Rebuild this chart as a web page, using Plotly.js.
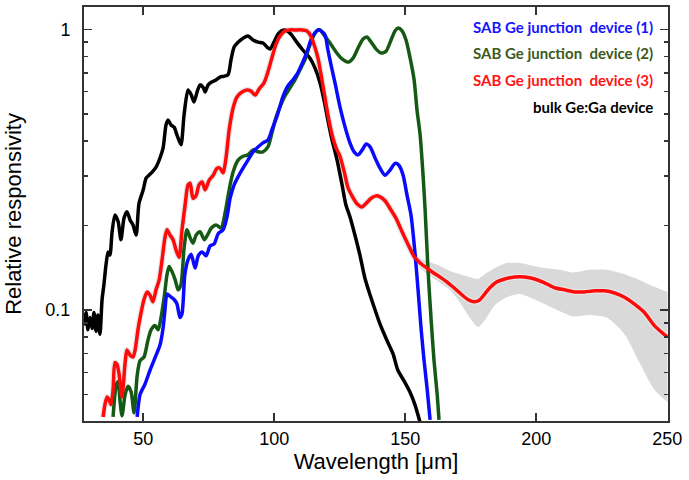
<!DOCTYPE html>
<html>
<head>
<meta charset="utf-8">
<script src="https://cdn.plot.ly/plotly-3.0.1.min.js"></script>
<style>html,body{margin:0;padding:0;background:#fff;}#chart{width:689px;height:480px;}</style>
</head>
<body>
<div id="chart"></div>
<script>
// Bulk Ge:Ga device (black)
const bulkX = [27.4,28.2,28.9,29.7,30.5,31.2,32.0,32.7,33.5,34.3,35.0,35.8,36.6,37.3,38.1,39.2,40.4,41.5,42.7,43.8,45.0,46.1,47.3,48.4,50.0,51.1,52.2,53.4,54.9,56.4,57.6,58.7,59.5,60.6,61.8,62.9,64.4,65.6,67.1,68.3,69.4,70.6,71.7,72.9,73.6,74.8,76.3,77.8,79.3,80.8,82.4,83.5,84.7,86.2,88.1,90.0,91.9,93.8,95.7,97.2,98.4,99.9,101.4,102.9,104.8,106.7,108.6,110.9,113.6,115.5,117.5,119.0,120.5,122.1,124.0,125.9,127.4,128.9,130.8,132.7,134.6,136.6,138.5,140.4,143.0,145.3,147.2,149.5,151.8,153.7,155.6];
const bulkY = [0.088,0.098,0.085,0.094,0.086,0.098,0.084,0.096,0.082,0.109,0.123,0.145,0.161,0.157,0.189,0.218,0.207,0.178,0.213,0.224,0.209,0.201,0.185,0.240,0.268,0.295,0.302,0.310,0.323,0.348,0.378,0.456,0.475,0.456,0.448,0.42,0.388,0.496,0.608,0.585,0.551,0.600,0.634,0.620,0.598,0.634,0.650,0.660,0.676,0.68,0.69,0.778,0.865,0.90,0.93,0.947,0.916,0.90,0.894,0.865,0.85,0.90,0.96,0.99,0.99,0.954,0.90,0.844,0.79,0.73,0.644,0.56,0.475,0.403,0.342,0.279,0.236,0.215,0.185,0.157,0.13,0.113,0.10,0.089,0.078,0.070,0.061,0.056,0.051,0.046,0.040];

// SAB Ge junction device (1) (blue)
const dev1X = [47.7,48.8,50.7,52.6,54.5,56.4,57.6,58.3,59.1,60.2,61.8,62.9,64.0,64.8,65.9,67.1,68.3,69.8,71.0,72.5,74.0,75.5,77.1,78.6,80.5,82.0,83.2,84.7,86.2,88.1,90.0,91.9,93.8,95.7,97.6,99.1,101.0,103.3,105.2,107.1,109.0,110.9,112.5,114.0,115.5,116.7,117.9,119.4,120.5,121.7,123.2,125.1,127.0,128.9,130.5,132.0,133.6,135.1,136.6,138.5,140.4,142.3,144.2,146.1,147.6,149.2,150.7,152.2,153.8,154.9,156.1,157.2,158.4,159.5];
const dev1Y = [0.0416,0.050,0.0545,0.061,0.0675,0.075,0.0865,0.100,0.114,0.112,0.109,0.105,0.094,0.097,0.134,0.151,0.158,0.141,0.156,0.161,0.156,0.169,0.172,0.187,0.193,0.215,0.251,0.279,0.298,0.32,0.342,0.366,0.381,0.394,0.403,0.438,0.488,0.574,0.628,0.660,0.70,0.765,0.83,0.916,0.97,0.995,0.987,0.954,0.844,0.746,0.644,0.529,0.45,0.394,0.366,0.357,0.372,0.39,0.381,0.348,0.32,0.302,0.315,0.333,0.328,0.302,0.256,0.218,0.157,0.118,0.085,0.066,0.052,0.0406];

// SAB Ge junction device (2) (green)
const dev2X = [38.5,39.7,40.4,41.1,41.9,43.1,44.2,45.4,46.5,47.7,48.8,50.3,51.8,53.0,54.5,55.7,56.8,58.0,59.1,59.9,61.0,62.2,63.3,64.4,65.6,66.7,67.9,69.0,70.2,71.7,73.3,74.4,76.0,77.8,79.7,81.3,82.8,84.3,86.2,88.1,90.0,91.9,93.8,95.7,97.6,99.1,100.6,102.2,104.1,106.0,107.9,109.8,111.7,113.2,114.8,116.3,117.5,119.0,121.3,123.6,125.9,128.2,130.1,132.0,133.9,135.4,137.0,138.9,140.8,142.7,144.6,146.1,147.3,148.8,150.3,151.8,153.4,154.5,155.7,156.8,157.6,158.7,159.9,161.0,162.2,162.9];
const dev2Y = [0.0416,0.054,0.0555,0.048,0.042,0.050,0.0535,0.051,0.043,0.0585,0.066,0.068,0.078,0.085,0.088,0.085,0.094,0.111,0.134,0.143,0.137,0.128,0.118,0.123,0.166,0.193,0.181,0.173,0.185,0.19,0.178,0.184,0.196,0.201,0.196,0.223,0.268,0.31,0.342,0.353,0.357,0.372,0.366,0.366,0.381,0.426,0.483,0.529,0.579,0.618,0.660,0.716,0.778,0.858,0.94,0.987,0.995,0.954,0.894,0.83,0.784,0.764,0.79,0.858,0.923,0.939,0.90,0.85,0.823,0.836,0.916,0.987,1.01,0.987,0.916,0.796,0.66,0.516,0.42,0.303,0.227,0.139,0.092,0.066,0.05,0.0406];

// SAB Ge junction device (3) (red)
const dev3X = [34.7,35.4,36.2,36.9,37.7,38.5,39.2,40.0,40.8,41.9,43.1,43.8,45.0,46.1,46.9,48.0,49.2,50.3,51.5,52.6,53.7,54.9,56.1,57.2,58.3,59.1,60.2,61.4,62.5,63.7,64.8,66.0,67.1,67.9,69.0,70.2,71.3,72.5,73.6,75.2,76.7,78.2,79.3,80.5,81.6,82.8,84.3,85.8,87.7,89.6,91.1,92.7,94.2,96.1,97.6,99.1,100.6,102.2,104.1,106.0,108.3,110.6,112.5,114.0,115.5,116.7,117.9,119.0,120.5,122.1,123.6,125.1,126.7,128.2,129.7,131.6,133.5,135.1,137.0,138.9,140.4,142.3,144.2,146.5,148.8,151.1,153.4,155.7,158.3,160.6,163.3,165.9,168.6,171.3,173.9,176.2,178.1,180.0,182.3,185.0,188.0,191.8,195.6,199.4,203.2,207.0,210.8,214.6,218.4,222.3,226.1,229.9,233.7,237.5,241.3,245.1,250.1];
const dev3Y = [0.0416,0.046,0.049,0.048,0.046,0.052,0.065,0.064,0.059,0.049,0.065,0.072,0.069,0.068,0.072,0.085,0.098,0.109,0.116,0.113,0.107,0.118,0.128,0.151,0.181,0.193,0.185,0.178,0.164,0.154,0.193,0.237,0.279,0.283,0.25,0.256,0.279,0.286,0.268,0.29,0.302,0.32,0.32,0.308,0.348,0.438,0.524,0.574,0.598,0.608,0.603,0.583,0.612,0.644,0.705,0.79,0.88,0.946,0.987,0.995,0.995,0.995,0.987,0.946,0.865,0.79,0.687,0.598,0.495,0.42,0.378,0.353,0.311,0.272,0.255,0.239,0.233,0.24,0.25,0.255,0.253,0.245,0.23,0.212,0.19,0.171,0.155,0.147,0.141,0.136,0.131,0.126,0.12,0.114,0.109,0.107,0.108,0.113,0.12,0.126,0.129,0.131,0.131,0.129,0.125,0.12,0.118,0.116,0.116,0.117,0.117,0.115,0.111,0.105,0.098,0.088,0.080];

// Uncertainty band of device (3)
const bandX  = [149.9,155.7,162.2,167.0,171.0,174.6,177.7,180.4,184.2,188.8,193.7,201.3,209.0,213.9,220.4,226.9,233.7,239.4,245.1,250.1];
const bandHi = [0.183,0.153,0.145,0.138,0.134,0.131,0.129,0.134,0.141,0.147,0.147,0.142,0.139,0.136,0.139,0.139,0.134,0.128,0.121,0.116];
const bandLo = [0.169,0.141,0.127,0.118,0.106,0.094,0.087,0.092,0.104,0.111,0.114,0.107,0.099,0.095,0.096,0.094,0.082,0.065,0.052,0.047];

const legendNames = ['SAB Ge junction  device (1)','SAB Ge junction  device (2)','SAB Ge junction  device (3)','bulk Ge:Ga device'];
const legendColors = ['#1414ff','#3d5a1a','#ff1414','#000000'];

const sm = 0.7;
const traces = [
  {x: bandX, y: bandLo, mode:'lines', line:{width:0, shape:'spline', smoothing:sm}, hoverinfo:'skip', showlegend:false},
  {x: bandX, y: bandHi, mode:'lines', fill:'tonexty', fillcolor:'#d9d9d9', line:{width:0, shape:'spline', smoothing:sm}, hoverinfo:'skip', showlegend:false},
  {x: dev3X, y: dev3Y, mode:'lines', line:{color:'#e6e6e6', width:6, shape:'spline', smoothing:sm}, showlegend:false},
  {x: bulkX, y: bulkY, mode:'lines', line:{color:'#000000', width:3.5, shape:'spline', smoothing:sm}, showlegend:false},
  {x: dev2X, y: dev2Y, mode:'lines', line:{color:'#145a14', width:3.5, shape:'spline', smoothing:sm}, showlegend:false},
  {x: dev1X, y: dev1Y, mode:'lines', line:{color:'#0a0aff', width:3.5, shape:'spline', smoothing:sm}, showlegend:false},
  {x: dev3X, y: dev3Y, mode:'lines', line:{color:'#ff0a0a', width:3.5, shape:'spline', smoothing:sm}, showlegend:false}
];

const legendY = [0.952, 0.889, 0.824, 0.758];
const annotations = legendNames.map((t,i)=>({
  text: '<b>'+t+'</b>', xref:'paper', yref:'paper', x:0.978, y:legendY[i],
  xanchor:'right', yanchor:'middle', showarrow:false,
  font:{family:'Lato, sans-serif', size:15, color:legendColors[i]}
}));

const minorY = [0.05,0.06,0.07,0.08,0.09,0.2,0.3,0.4,0.5,0.6,0.7,0.8,0.9];
const F = '"Liberation Sans", Arial, sans-serif';

const layout = {
  width:689, height:480,
  margin:{l:84, r:21, t:7, b:59},
  paper_bgcolor:'#ffffff', plot_bgcolor:'#ffffff',
  font:{family:F, color:'#000'},
  xaxis:{
    range:[27.4, 250.3], tickvals:[50,100,150,200,250], ticktext:['50','100','150','200','250'],
    ticks:'inside', ticklen:8, tickwidth:1.5, tickcolor:'#333',
    showline:true, linewidth:2, linecolor:'#333', mirror:'ticks', showgrid:false, zeroline:false,
    tickfont:{family:F, size:18, color:'#000'},
    title:{text:'Wavelength [\u03bcm]', font:{family:F, size:22, color:'#000'}, standoff:6}
  },
  yaxis:{
    type:'log', range:[-1.3955, 0.0795], tickvals:[0.1,1], ticktext:['0.1','1'],
    ticks:'inside', ticklen:8, tickwidth:1.5, tickcolor:'#333', ticklabelstandoff:8,
    minor:{tickvals:minorY, ticks:'inside', ticklen:4, tickwidth:1.5, tickcolor:'#333', showgrid:false},
    showline:true, linewidth:2, linecolor:'#333', mirror:'ticks', showgrid:false, zeroline:false,
    tickfont:{family:F, size:18, color:'#000'},
    title:{text:'Relative responsivity', font:{family:F, size:22, color:'#000'}, standoff:18}
  },
  annotations: annotations,
  showlegend:false
};

Plotly.newPlot('chart', traces, layout, {displayModeBar:false, staticPlot:true});
</script>
</body>
</html>
